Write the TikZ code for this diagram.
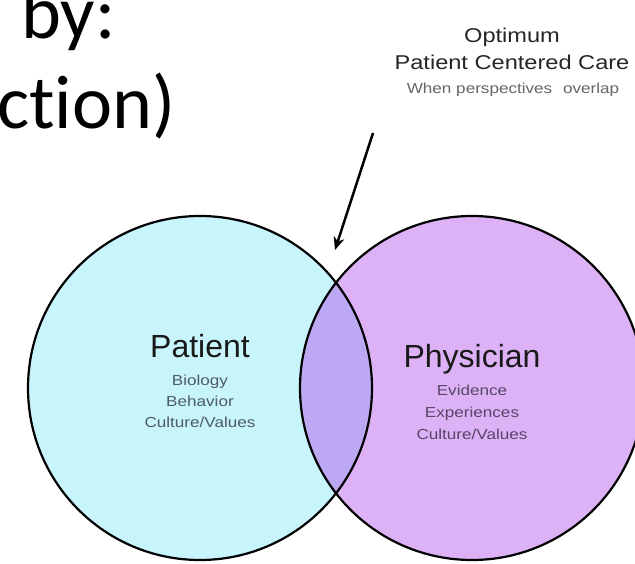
\documentclass[tikz,border=0pt]{standalone}
\usepackage{fontspec}
\setmainfont{Liberation Sans}
\newfontfamily\widesans[FakeStretch=1.18]{Liberation Sans}
\newfontfamily\calfont[Ligatures={NoCommon,NoRare,NoContextual}]{Carlito}
\usetikzlibrary{arrows.meta}
\definecolor{patfill}{HTML}{C8F5FC}
\definecolor{phyfill}{HTML}{DDB1F6}
\definecolor{ovfill}{HTML}{BDA9F3}
\definecolor{patsub}{HTML}{4E5C62}
\definecolor{physub}{HTML}{574668}
\definecolor{notegray}{HTML}{666666}
\tikzset{
  ring/.style={draw=black, line width=2.2pt},
  bigname/.style={anchor=base, inner sep=0pt, font=\fontsize{32}{38}\selectfont, text=black!90},
  subitem/.style={anchor=base, inner sep=0pt, font=\widesans\fontsize{14.5}{17}\selectfont},
  titletext/.style={anchor=base, inner sep=0pt, font=\widesans\fontsize{20}{24}\selectfont, text=black!85},
  slidetext/.style={anchor=base west, inner sep=0pt, font=\calfont\fontsize{76}{90}\selectfont},
  pointer/.style={line width=2.5pt, -{Stealth[length=13pt,width=11pt]}}
}
\begin{document}
\begin{tikzpicture}[x=1pt,y=-1pt]
\useasboundingbox (0,0) rectangle (635,563);
\clip (0,0) rectangle (635,563);
\fill[white] (0,0) rectangle (635,563);
% circles
\coordinate (cl) at (200,388);
\coordinate (cr) at (472,388);
\fill[patfill] (cl) circle (172pt);
\fill[phyfill] (cr) circle (172pt);
\begin{scope}
  \clip (cl) circle (172pt);
  \fill[ovfill] (cr) circle (172pt);
\end{scope}
\draw[ring] (cl) circle (172pt);
\draw[ring] (cr) circle (172pt);
% slide text (cropped)
\node[slidetext] (by) at (21,38) {by:};
\node[slidetext] (ction) at (-3,128) {ction)};
% top right note
\node[titletext] (opt) at (512,42) {Optimum};
\node[titletext] (pcc) at (512,69) {Patient Centered Care};
\node[subitem, text=notegray] (wpo) at (513,93) {When perspectives\hspace{6pt} overlap};
% arrow
\coordinate (a1) at (373,133);
\coordinate (a2) at (335,250);
\draw[pointer] (a1) -- (a2);
% patient
\node[bigname] (patient) at (200,357) {Patient};
\node[subitem, text=patsub] (p1) at (200,385) {Biology};
\node[subitem, text=patsub] (p2) at (200,406) {Behavior};
\node[subitem, text=patsub] (p3) at (200,427) {Culture/Values};
% physician
\node[bigname] (physician) at (472,367) {Physician};
\node[subitem, text=physub] (q1) at (472,395) {Evidence};
\node[subitem, text=physub] (q2) at (472,417) {Experiences};
\node[subitem, text=physub] (q3) at (472,439) {Culture/Values};
\end{tikzpicture}
\end{document}
